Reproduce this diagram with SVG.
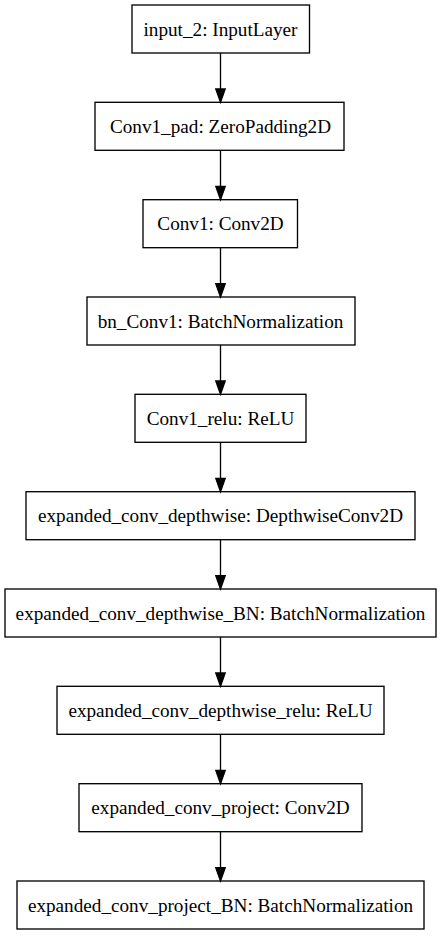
<svg xmlns="http://www.w3.org/2000/svg" width="441" height="936" viewBox="0 0 441 936">
<style>
rect{fill:#fff;stroke:#000;stroke-width:1.33}
text{font-family:"Liberation Serif","Times New Roman",serif;font-size:19.2px;text-anchor:middle;fill:#000}
.e{stroke:#000;stroke-width:1.33;fill:none}
.h{fill:#000;stroke:#000;stroke-width:1.33}
</style>
<rect x="0" y="0" width="441" height="936" style="stroke:none"/>
<g id="n1"><rect x="132" y="5" width="177.5" height="48"/><text x="220.5" y="35.5">input_2: InputLayer</text></g>
<g id="n2"><rect x="95" y="102.3" width="249" height="48"/><text x="220.5" y="132.8">Conv1_pad: ZeroPadding2D</text></g>
<g id="n3"><rect x="143" y="199.7" width="154.5" height="48"/><text x="220.5" y="230.2">Conv1: Conv2D</text></g>
<g id="n4"><rect x="87" y="297" width="268" height="48"/><text x="220.5" y="327.5">bn_Conv1: BatchNormalization</text></g>
<g id="n5"><rect x="135" y="394.3" width="171" height="48"/><text x="220.5" y="424.8">Conv1_relu: ReLU</text></g>
<g id="n6"><rect x="26" y="491.7" width="389" height="48"/><text x="220.5" y="522.2">expanded_conv_depthwise: DepthwiseConv2D</text></g>
<g id="n7"><rect x="5" y="589" width="431" height="48"/><text x="220.5" y="619.5">expanded_conv_depthwise_BN: BatchNormalization</text></g>
<g id="n8"><rect x="57" y="686.3" width="327" height="48"/><text x="220.5" y="716.8">expanded_conv_depthwise_relu: ReLU</text></g>
<g id="n9"><rect x="79" y="783.7" width="283" height="48"/><text x="220.5" y="814.2">expanded_conv_project: Conv2D</text></g>
<g id="n10"><rect x="17" y="881" width="407" height="48"/><text x="220.5" y="911.5">expanded_conv_project_BN: BatchNormalization</text></g>
<g id="edges">
<path class="e" d="M220.5,53V89"/><path class="h" d="M215.8,89L220.5,102.3L225.2,89Z"/>
<path class="e" d="M220.5,150.3V186.4"/><path class="h" d="M215.8,186.4L220.5,199.7L225.2,186.4Z"/>
<path class="e" d="M220.5,247.7V283.7"/><path class="h" d="M215.8,283.7L220.5,297L225.2,283.7Z"/>
<path class="e" d="M220.5,345V381"/><path class="h" d="M215.8,381L220.5,394.3L225.2,381Z"/>
<path class="e" d="M220.5,442.3V478.4"/><path class="h" d="M215.8,478.4L220.5,491.7L225.2,478.4Z"/>
<path class="e" d="M220.5,539.7V575.7"/><path class="h" d="M215.8,575.7L220.5,589L225.2,575.7Z"/>
<path class="e" d="M220.5,637V673"/><path class="h" d="M215.8,673L220.5,686.3L225.2,673Z"/>
<path class="e" d="M220.5,734.3V770.4"/><path class="h" d="M215.8,770.4L220.5,783.7L225.2,770.4Z"/>
<path class="e" d="M220.5,831.7V867.7"/><path class="h" d="M215.8,867.7L220.5,881L225.2,867.7Z"/>
</g>
</svg>
